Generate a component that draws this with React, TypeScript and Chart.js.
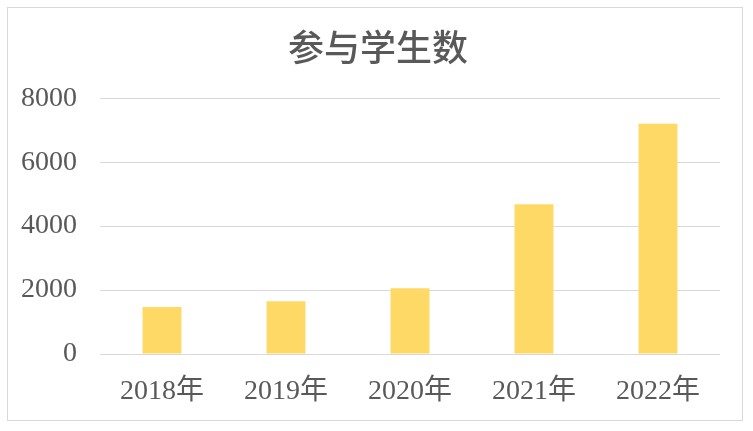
import React, { useEffect, useRef } from "react";
import { Chart, registerables } from "chart.js";

Chart.register(...registerables);

const categories = ["2018年", "2019年", "2020年", "2021年", "2022年"];
const studentCounts = [1470, 1650, 2060, 4680, 7200];
const yTicks = [0, 2000, 4000, 6000, 8000];
const titleText = "参与学生数";

export default function App() {
  const ref = useRef<HTMLCanvasElement | null>(null);

  useEffect(() => {
    document.body.style.margin = "0";
    const canvas = ref.current;
    if (!canvas) return;
    const chart = new Chart(canvas, {
      type: "bar",
      data: {
        labels: categories,
        datasets: [
          {
            label: titleText,
            data: studentCounts,
            backgroundColor: "#FFD966",
            borderWidth: 0,
            barPercentage: 0.314,
            categoryPercentage: 1,
          },
        ],
      },
      options: {
        animation: false,
        responsive: false,
        maintainAspectRatio: false,
        layout: { padding: { left: 6, right: 0, top: 0, bottom: 0 } },
        plugins: {
          legend: { display: false },
          tooltip: { enabled: false },
          title: {
            display: true,
            text: titleText,
            color: "#595959",
            font: { family: "'Noto Sans CJK SC', 'Noto Sans', sans-serif", size: 36, weight: "500" },
            padding: { top: 18, bottom: 29 },
          },
        },
        scales: {
          x: {
            grid: { display: false, drawTicks: false },
            border: { display: false },
            ticks: {
              color: "#595959",
              padding: 21,
              font: { family: "'Liberation Serif', 'Noto Sans CJK SC', serif", size: 28 },
            },
            afterFit: (scale: any) => {
              scale.height = 66;
            },
          },
          y: {
            min: 0,
            max: 8000,
            afterBuildTicks: (scale: any) => {
              scale.ticks = yTicks.map((v) => ({ value: v }));
            },
            grid: { color: "#d9d9d9", lineWidth: 1, drawTicks: false },
            border: { display: false },
            ticks: {
              color: "#595959",
              padding: 23,
              font: { family: "'Liberation Serif', serif", size: 28 },
              callback: (v: any) => String(v),
            },
            afterFit: (scale: any) => {
              scale.width = 86;
            },
          },
          yRightSpacer: {
            type: "linear",
            position: "right",
            display: true,
            grid: { display: false, drawTicks: false },
            border: { display: false },
            ticks: { display: false },
            afterFit: (scale: any) => {
              scale.width = 22;
            },
          },
        },
      },
    });
    return () => chart.destroy();
  }, []);

  return (
    <div
      style={{
        position: "absolute",
        left: 7,
        top: 7,
        width: 736,
        height: 414,
        border: "1px solid #d9d9d9",
        boxSizing: "border-box",
        background: "#ffffff",
      }}
    >
      <canvas ref={ref} width={734} height={412} style={{ display: "block", width: 734, height: 412 }} />
    </div>
  );
}
